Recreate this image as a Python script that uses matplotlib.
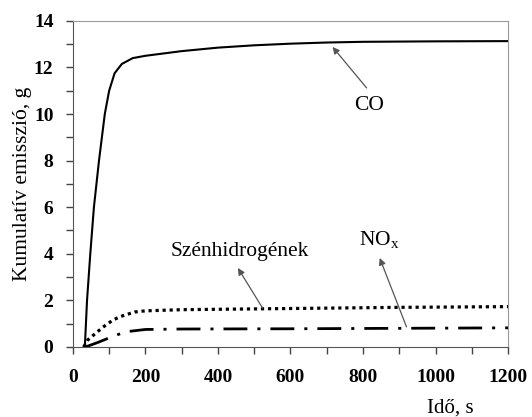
import matplotlib
matplotlib.use("Agg")
import matplotlib.pyplot as plt
from matplotlib.ticker import MultipleLocator

plt.rcParams['font.family'] = ['Liberation Serif', 'DejaVu Serif']

# cumulative emissions (time in s, mass in g)
co_t = [30, 33, 39, 48, 58, 72, 88, 100, 115, 135, 165, 200, 300, 400, 500, 600, 700, 800, 1000, 1200]
co_g = [0, 0, 2, 4, 6, 8, 10, 11, 11.75, 12.15, 12.4, 12.5, 12.7, 12.85, 12.95, 13.02, 13.07, 13.1, 13.12, 13.13]

hc_t = [30, 41, 60, 83, 110, 130, 170, 200, 300, 600, 900, 1200]
hc_g = [0, 0.3, 0.55, 0.85, 1.15, 1.3, 1.5, 1.55, 1.6, 1.65, 1.7, 1.73]

nox_t = [35, 70, 105, 145, 200, 300, 600, 900, 1200]
nox_g = [0, 0.2, 0.42, 0.65, 0.75, 0.77, 0.78, 0.8, 0.82]

fig = plt.figure(figsize=(5.32, 4.17), dpi=100)
ax = fig.add_axes([0.137, 0.168, 0.818, 0.782])

ax.plot(co_t, co_g, color='black', lw=1.5)
ax.plot(hc_t, hc_g, color='black', lw=2.3, dashes=(1.0, 1.2))
ax.plot(nox_t, nox_g, color='black', lw=2.0, dashes=(8.6, 3.6, 1.1, 3.6))

ax.set_xlim(0, 1200)
ax.set_ylim(0, 14)
ax.xaxis.set_major_locator(MultipleLocator(200))
ax.xaxis.set_minor_locator(MultipleLocator(100))
ax.yaxis.set_major_locator(MultipleLocator(2))
ax.yaxis.set_minor_locator(MultipleLocator(1))
ax.tick_params(which='both', direction='out', length=5, width=1, color='#444')
ax.tick_params(axis='x', labelsize=14, pad=11)
ax.tick_params(axis='y', labelsize=14, pad=9)
for lab in ax.get_xticklabels() + ax.get_yticklabels():
    lab.set_fontweight('bold')

for side in ('top', 'right'):
    ax.spines[side].set_color('#999999')
for side in ('left', 'bottom'):
    ax.spines[side].set_color('#555555')

ax.set_ylabel('Kumulatív emisszió, g', fontsize=15.5, labelpad=1)
fig.text(0.846, 0.022, 'Idő, s', fontsize=15, ha='center', va='center')

arrow = dict(arrowstyle='-|>', color='#555555', lw=0.9, mutation_scale=10,
             shrinkA=0, shrinkB=0)
ax.annotate('', xy=(716, 12.88), xytext=(810, 11.12), arrowprops=arrow)
ax.text(818, 10.35, 'CO', fontsize=15.5, ha='center', va='center')

ax.annotate('', xy=(455, 3.39), xytext=(523, 1.67), arrowprops=arrow)
ax.text(460, 4.08, 'Szénhidrogének', fontsize=15.5, ha='center', va='center')

ax.annotate('', xy=(846, 3.82), xytext=(920, 0.86), arrowprops=arrow)
ax.text(846, 4.6, r'NO$_\mathregular{x}$', fontsize=15.5, ha='center', va='center')

fig.savefig('out.png', dpi=100)
